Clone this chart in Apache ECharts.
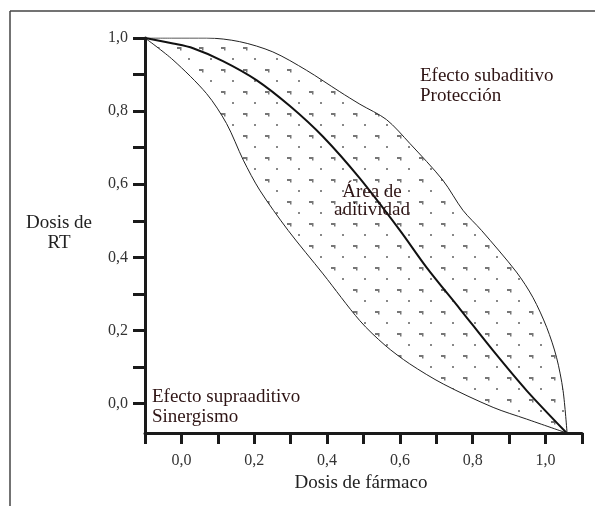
<!DOCTYPE html>
<html>
<head>
<meta charset="utf-8">
<script src="https://cdn.jsdelivr.net/npm/echarts@6/dist/echarts.min.js"></script>
<style>
html,body{margin:0;padding:0;background:#fff;}
#chart{width:595px;height:506px;}
</style>
</head>
<body>
<div id="chart"></div>
<script>
// ---- data ----
const upperX = [-0.1, -0.023, 0.069, 0.160, 0.251, 0.343, 0.435, 0.490, 0.563, 0.627, 0.718, 0.773, 0.824, 0.920, 0.965, 1.003, 1.030, 1.048, 1.059];
const upperY = [1.0, 1.0, 1.0, 0.990, 0.962, 0.912, 0.853, 0.819, 0.777, 0.712, 0.611, 0.529, 0.474, 0.360, 0.291, 0.209, 0.127, 0.036, -0.08];

const middleX = [-0.1, -0.023, 0.032, 0.114, 0.206, 0.298, 0.389, 0.490, 0.600, 0.673, 0.765, 0.856, 0.948, 1.058];
const middleY = [1.0, 0.985, 0.972, 0.937, 0.885, 0.814, 0.730, 0.616, 0.474, 0.373, 0.259, 0.145, 0.036, -0.08];

const lowerX = [-0.1, -0.023, 0.069, 0.124, 0.170, 0.215, 0.293, 0.389, 0.490, 0.559, 0.627, 0.719, 0.856, 0.948, 1.058];
const lowerY = [1.0, 0.940, 0.848, 0.766, 0.666, 0.584, 0.474, 0.355, 0.227, 0.160, 0.109, 0.054, -0.010, -0.042, -0.08];

const xTicks = [-0.1, 0.0, 0.1, 0.2, 0.3, 0.4, 0.5, 0.6, 0.7, 0.8, 0.9, 1.0, 1.1];
const xLabels = [0.0, 0.2, 0.4, 0.6, 0.8, 1.0];
const yTicks = [0.0, 0.1, 0.2, 0.3, 0.4, 0.5, 0.6, 0.7, 0.8, 0.9, 1.0];
const yLabels = [0.0, 0.2, 0.4, 0.6, 0.8, 1.0];

const xTitle = 'Dosis de fármaco';
const yTitle = 'Dosis de\nRT';
const noteTop = 'Efecto subaditivo\nProtección';
const noteMid = 'Área de\naditividad';
const noteBottom = 'Efecto supraaditivo\nSinergismo';

// ---- build ----
const pair = (xs, ys) => xs.map((x, i) => [x, ys[i]]);

const tile = document.createElement('canvas');
tile.width = 22; tile.height = 22;
const tc = tile.getContext('2d');
tc.fillStyle = '#fff';
tc.fillRect(0, 0, 22, 22);
tc.fillStyle = '#767676';
tc.fillRect(1, 3, 4, 2);
tc.fillRect(4, 3, 1.5, 3.5);
tc.fillStyle = '#888';
tc.fillRect(12, 14, 2, 2);

const serif = '"Liberation Serif", "DejaVu Serif", serif';
const noteColor = '#2e1414';
const fmt = v => v.toFixed(1).replace('.', ',');

const chart = echarts.init(document.getElementById('chart'), null, {renderer: 'canvas'});
chart.setOption({
  animation: false,
  backgroundColor: '#fff',
  grid: {left: 145, top: 38, width: 437, height: 395, containLabel: false},
  xAxis: {
    type: 'value', min: -0.1, max: 1.1, interval: 0.1, z: 10,
    splitLine: {show: false},
    axisLine: {show: true, onZero: false, lineStyle: {color: '#1a1a1a', width: 3}},
    axisTick: {show: true, length: 11, customValues: xTicks, lineStyle: {color: '#1a1a1a', width: 3}},
    axisLabel: {customValues: xLabels, formatter: fmt, margin: 20, color: '#333', fontFamily: serif, fontSize: 16}
  },
  yAxis: {
    type: 'value', min: -0.08, max: 1.0, z: 10,
    splitLine: {show: false},
    axisLine: {show: true, onZero: false, lineStyle: {color: '#1a1a1a', width: 3}},
    axisTick: {show: true, length: 12, customValues: yTicks, lineStyle: {color: '#1a1a1a', width: 3}},
    axisLabel: {customValues: yLabels, formatter: fmt, margin: 17, color: '#333', fontFamily: serif, fontSize: 16}
  },
  series: [
    {
      type: 'line', data: pair(upperX, upperY), symbol: 'none', smooth: 0.3, z: 1,
      lineStyle: {color: '#222', width: 1},
      areaStyle: {origin: 'start', opacity: 1, color: {image: tile, repeat: 'repeat'}}
    },
    {
      type: 'line', data: pair(lowerX, lowerY), symbol: 'none', smooth: 0.3, z: 2,
      lineStyle: {color: '#222', width: 1},
      areaStyle: {origin: 'start', opacity: 1, color: '#fff'}
    },
    {
      type: 'line', data: pair(middleX, middleY), symbol: 'none', smooth: 0.3, z: 3,
      lineStyle: {color: '#111', width: 2}
    }
  ],
  graphic: [
    {type: 'line', shape: {x1: 10, y1: 11, x2: 595, y2: 11}, style: {stroke: '#444', lineWidth: 1.5}, z: 20},
    {type: 'line', shape: {x1: 10, y1: 11, x2: 10, y2: 506}, style: {stroke: '#444', lineWidth: 1.5}, z: 20},
    {type: 'text', x: 361, y: 483, z: 20, style: {text: xTitle, font: '19px ' + serif, fill: '#222', align: 'center', verticalAlign: 'middle'}},
    {type: 'text', x: 59, y: 233, z: 20, style: {text: yTitle, font: '19px ' + serif, fill: '#222', align: 'center', verticalAlign: 'middle', lineHeight: 20}},
    {type: 'text', x: 420, y: 86, z: 20, style: {text: noteTop, font: '19px ' + serif, fill: noteColor, align: 'left', verticalAlign: 'middle', lineHeight: 20}},
    {type: 'text', x: 372, y: 201, z: 20, style: {text: noteMid, font: '19px ' + serif, fill: noteColor, align: 'center', verticalAlign: 'middle', lineHeight: 18}},
    {type: 'text', x: 152, y: 407, z: 20, style: {text: noteBottom, font: '19px ' + serif, fill: noteColor, align: 'left', verticalAlign: 'middle', lineHeight: 20}}
  ]
});
</script>
</body>
</html>
